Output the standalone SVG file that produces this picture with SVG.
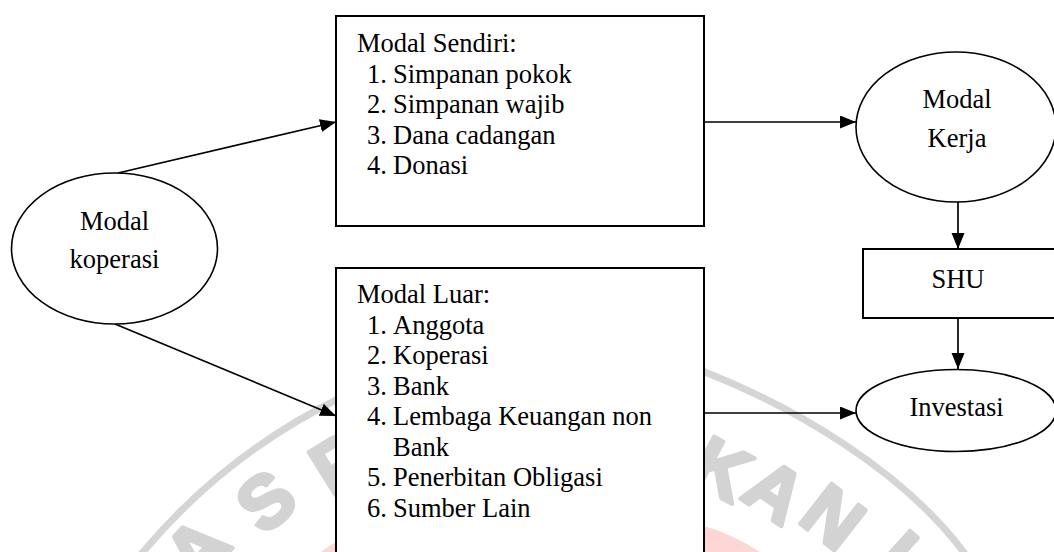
<svg xmlns="http://www.w3.org/2000/svg" width="1054" height="552" viewBox="0 0 1054 552">
  <defs>
    <marker id="arrow" markerUnits="userSpaceOnUse" markerWidth="16" markerHeight="14" refX="16" refY="6.5" orient="auto">
      <path d="M0,0 L16,6.5 L0,13 z" fill="#000"/>
    </marker>
    <style>
      .box { fill: #fff; stroke: #000; stroke-width: 2; }
      .ell { fill: #fff; stroke: #000; stroke-width: 1.6; }
      .conn { fill: none; stroke: #000; stroke-width: 1.7; marker-end: url(#arrow); }
      .t { font-family: "Liberation Sans", Arial, sans-serif; font-size: 26.5px; fill: #000; }
      .t { font-family: "Liberation Serif", "Times New Roman", serif; }
      .c { text-anchor: middle; }
      .wm { font-family: "Liberation Sans", Arial, sans-serif; font-size: 74px; font-weight: bold; fill: #d3d3d3; stroke: #d3d3d3; stroke-width: 4; stroke-linejoin: round; text-anchor: middle; }
      .wmarc { fill: none; stroke: #d5d5d5; stroke-width: 7; }
      .pink { fill: #ffd6d6; }
    </style>
  </defs>
  <rect width="1054" height="552" fill="#fff"/>

  <g id="watermark">
    <path class="wmarc" d="M138,558 A607,607 0 0 1 340,398"/>
    <path class="wmarc" d="M700,370 C790,405 905,470 968,558"/>
    <path class="pink" d="M704,526 Q732,534 760,552 L704,552 z"/>
    <path class="pink" d="M321,552 Q329,546 336,542 L336,552 z"/>
    <text class="wm" transform="translate(196,548) rotate(-48)" y="27">A</text>
    <text class="wm" transform="translate(265,500) rotate(-40)" y="27">S</text>
    <text class="wm" transform="translate(338,462) rotate(-32)" y="27">P</text>
    <text class="wm" transform="translate(722,468) rotate(28)" y="27">K</text>
    <text class="wm" transform="translate(776,490) rotate(34)" y="27">A</text>
    <text class="wm" transform="translate(834,516) rotate(38)" y="27">N</text>
    <text class="wm" transform="translate(898,552) rotate(42)" y="27">I</text>
  </g>

  <g id="connectors">
    <line class="conn" x1="118" y1="173" x2="336" y2="122"/>
    <line class="conn" x1="115" y1="324" x2="336" y2="416"/>
    <line class="conn" x1="704" y1="122" x2="856" y2="122"/>
    <line class="conn" x1="704" y1="413" x2="856" y2="413"/>
    <line class="conn" x1="958" y1="202" x2="958" y2="249"/>
    <line class="conn" x1="958" y1="318" x2="958" y2="369"/>
  </g>

  <g id="modal-koperasi">
    <ellipse class="ell" cx="114.5" cy="248.5" rx="103" ry="75.5"/>
    <text class="t c" x="114.5" y="230">Modal</text>
    <text class="t c" x="114.5" y="268">koperasi</text>
  </g>

  <g id="modal-sendiri">
    <rect class="box" x="336" y="16" width="368" height="210"/>
    <text class="t" x="357" y="52">Modal Sendiri:</text>
    <text class="t" x="367" y="82.5">1.</text><text class="t" x="393" y="82.5">Simpanan pokok</text>
    <text class="t" x="367" y="113">2.</text><text class="t" x="393" y="113">Simpanan wajib</text>
    <text class="t" x="367" y="143.5">3.</text><text class="t" x="393" y="143.5">Dana cadangan</text>
    <text class="t" x="367" y="174">4.</text><text class="t" x="393" y="174">Donasi</text>
  </g>

  <g id="modal-luar">
    <rect class="box" x="336" y="268" width="368" height="300"/>
    <text class="t" x="357" y="303">Modal Luar:</text>
    <text class="t" x="367" y="333.5">1.</text><text class="t" x="393" y="333.5">Anggota</text>
    <text class="t" x="367" y="364">2.</text><text class="t" x="393" y="364">Koperasi</text>
    <text class="t" x="367" y="394.5">3.</text><text class="t" x="393" y="394.5">Bank</text>
    <text class="t" x="367" y="425">4.</text><text class="t" x="393" y="425">Lembaga Keuangan non</text>
    <text class="t" x="393" y="455.5">Bank</text>
    <text class="t" x="367" y="486">5.</text><text class="t" x="393" y="486">Penerbitan Obligasi</text>
    <text class="t" x="367" y="516.5">6.</text><text class="t" x="393" y="516.5">Sumber Lain</text>
  </g>

  <g id="modal-kerja">
    <ellipse class="ell" cx="956" cy="127" rx="100" ry="75"/>
    <text class="t c" x="957" y="107.5">Modal</text>
    <text class="t c" x="957" y="146.5">Kerja</text>
  </g>

  <g id="shu">
    <rect class="box" x="863" y="249" width="200" height="69"/>
    <text class="t c" x="958" y="288">SHU</text>
  </g>

  <g id="investasi">
    <ellipse class="ell" cx="956" cy="410.5" rx="100" ry="41"/>
    <text class="t c" x="956.5" y="416">Investasi</text>
  </g>
</svg>
